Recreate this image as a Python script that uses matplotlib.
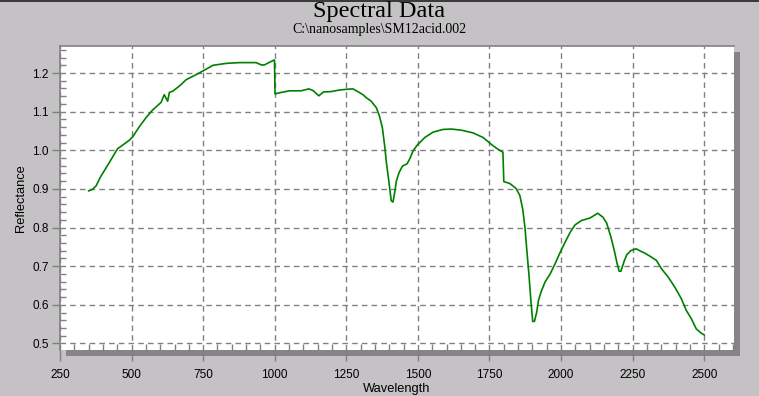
"""Spectral Data: reflectance spectrum of SM12acid.002."""

import matplotlib

matplotlib.use("Agg")
import matplotlib.pyplot as plt
from matplotlib.patches import Rectangle
from matplotlib.ticker import MultipleLocator

# spectrum (nm, reflectance)
wavelength = [
    350, 364, 376, 393, 422, 451, 468, 492, 504, 527, 550, 573, 603, 614,
    626, 632, 644, 668, 691, 726, 753, 784, 831, 877, 935, 953, 964, 982,
    999, 1001, 1017, 1052, 1092, 1119, 1133, 1154, 1170, 1197, 1226, 1252,
    1273, 1290, 1308, 1320, 1337, 1355, 1366, 1376, 1384, 1390, 1399, 1407,
    1413, 1419, 1425, 1434, 1446, 1462, 1471, 1483, 1497, 1524, 1553, 1588,
    1617, 1652, 1693, 1728, 1757, 1775, 1797, 1800, 1821, 1843, 1856, 1866,
    1874, 1880, 1888, 1895, 1901, 1907, 1915, 1921, 1930, 1944, 1962, 1979,
    1997, 2014, 2032, 2049, 2071, 2102, 2128, 2146, 2159, 2174, 2186, 2196,
    2203, 2209, 2220, 2229, 2243, 2262, 2280, 2292, 2310, 2333, 2351, 2374,
    2397, 2420, 2437, 2455, 2472, 2487, 2500,
]
reflectance = [
    0.895, 0.899, 0.908, 0.933, 0.968, 1.004, 1.013, 1.026, 1.035, 1.061,
    1.084, 1.104, 1.124, 1.144, 1.127, 1.150, 1.153, 1.167, 1.183, 1.196,
    1.207, 1.220, 1.225, 1.227, 1.227, 1.221, 1.221, 1.228, 1.234, 1.146,
    1.149, 1.154, 1.154, 1.159, 1.155, 1.141, 1.151, 1.152, 1.156, 1.158,
    1.159, 1.152, 1.144, 1.136, 1.127, 1.110, 1.088, 1.058, 1.011, 0.968,
    0.917, 0.869, 0.866, 0.891, 0.921, 0.942, 0.959, 0.965, 0.977, 0.998,
    1.013, 1.033, 1.047, 1.054, 1.055, 1.052, 1.045, 1.033, 1.015, 1.005,
    0.995, 0.919, 0.914, 0.901, 0.883, 0.848, 0.800, 0.745, 0.676, 0.607,
    0.557, 0.557, 0.581, 0.611, 0.633, 0.659, 0.680, 0.706, 0.736, 0.762,
    0.788, 0.807, 0.818, 0.825, 0.837, 0.827, 0.812, 0.776, 0.740, 0.706,
    0.687, 0.687, 0.712, 0.729, 0.740, 0.745, 0.738, 0.734, 0.726, 0.715,
    0.693, 0.672, 0.646, 0.616, 0.586, 0.564, 0.538, 0.528, 0.522,
]

x_ticks = [250, 500, 750, 1000, 1250, 1500, 1750, 2000, 2250, 2500]
y_ticks = [0.5, 0.6, 0.7, 0.8, 0.9, 1.0, 1.1, 1.2]

BG = "#c4c2c4"
SHADOW = "#868486"
GRID = "#808080"
LINE = "#008000"

W, H = 759, 396
# axes box in pixels (left, top, right, bottom)
L, T, R, B = 60, 46, 734, 350

fig = plt.figure(figsize=(W / 100, H / 100), dpi=100, facecolor=BG)

# dark strip along the top edge of the window
fig.patches.append(Rectangle((0, 1 - 2 / H), 1, 2 / H, transform=fig.transFigure,
                             fc="#3a3a3a", ec="none", zorder=-1))
# drop shadow behind the plot area
fig.patches.append(Rectangle(((L + 6) / W, (H - B - 6) / H), (R - L) / W, (B - T) / H,
                             transform=fig.transFigure, fc=SHADOW, ec="none", zorder=-1))

ax = fig.add_axes([L / W, (H - B) / H, (R - L) / W, (B - T) / H], zorder=1)
ax.set_facecolor("white")

ax.plot(wavelength, reflectance, color=LINE, lw=1.2, zorder=3)

ax.set_xlim(250, 2604)
ax.set_ylim(0.483, 1.27)
ax.set_xticks(x_ticks)
ax.set_yticks(y_ticks)
ax.set_yticklabels([f"{v:.1f}" for v in y_ticks])
ax.xaxis.set_minor_locator(MultipleLocator(50))
ax.yaxis.set_minor_locator(MultipleLocator(0.02))

ax.grid(True, which="major", color=GRID, ls=(0, (4, 3)), lw=1.0)
ax.tick_params(which="major", direction="out", length=6, width=1, color=GRID,
               labelsize=8.5, pad=2)
ax.tick_params(which="minor", direction="in", length=4, width=1, color=GRID)
ax.tick_params(axis="x", which="major", length=8, pad=6)

for side in ("bottom", "right"):
    ax.spines[side].set_visible(False)
for side in ("left", "top"):
    ax.spines[side].set_color(GRID)
    ax.spines[side].set_linewidth(1.2)

for lbl in ax.get_xticklabels() + ax.get_yticklabels():
    lbl.set_family("Liberation Sans")

ax.set_xlabel("Wavelength", family="Liberation Sans", fontsize=9.3, labelpad=1)
ax.set_ylabel("Reflectance", family="Liberation Sans", fontsize=9.3, labelpad=4)

fig.text(0.5, 1 - 12 / H, "Spectral Data", family="Liberation Serif", fontsize=17.5,
         ha="center", va="center")
fig.text(0.5, 1 - 30 / H, "C:\\nanosamples\\SM12acid.002", family="Liberation Serif",
         fontsize=10, ha="center", va="center")

fig.savefig("out.png", dpi=100, facecolor=BG)
